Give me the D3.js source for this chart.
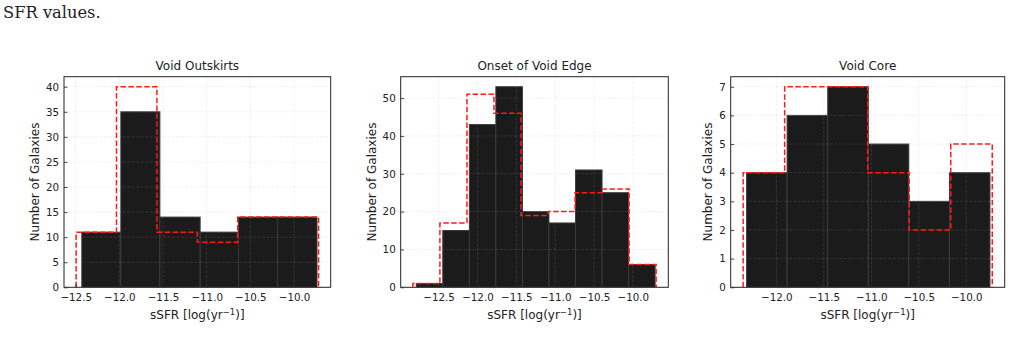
<!DOCTYPE html>
<html lang="en">
<head>
<meta charset="UTF-8">
<title>sSFR histograms</title>
<script src="https://d3js.org/d3.v7.min.js"></script>
<style>
  body { margin: 0; background: #fff; }
  svg { display: block; }
</style>
</head>
<body>
<div id="chart"></div>
<script>
// panel titles
var titles = ["Void Outskirts", "Onset of Void Edge", "Void Core"];

// black filled histograms: bin edges and counts
var outskirtsEdges = [-12.430, -11.983, -11.536, -11.075, -10.636, -10.187, -9.737];
var outskirtsCounts = [11, 35, 14, 11, 14, 14];
var edgeEdges = [-12.787, -12.446, -12.104, -11.763, -11.421, -11.080, -10.738, -10.397, -10.055, -9.714];
var edgeCounts = [1, 15, 43, 53, 20, 17, 31, 25, 6];
var coreEdges = [-12.314, -11.887, -11.459, -11.032, -10.605, -10.177, -9.750];
var coreCounts = [4, 6, 7, 5, 3, 4];

// red dashed step histograms
var outskirtsRedEdges = [-12.495, -12.033, -11.570, -11.107, -10.645, -10.182, -9.719];
var outskirtsRedCounts = [11, 40, 11, 9, 14, 14];
var edgeRedEdges = [-12.831, -12.483, -12.135, -11.788, -11.440, -11.092, -10.744, -10.397, -10.049, -9.701];
var edgeRedCounts = [1, 17, 51, 46, 19, 20, 25, 26, 6];
var coreRedEdges = [-12.350, -11.913, -11.475, -11.038, -10.601, -10.163, -9.726];
var coreRedCounts = [4, 7, 7, 4, 2, 5];

// tick values
var xTicksWide = [-12.5, -12.0, -11.5, -11.0, -10.5, -10.0];
var xTicksCore = [-12.0, -11.5, -11.0, -10.5, -10.0];
var yTicksOutskirts = [0, 5, 10, 15, 20, 25, 30, 35, 40];
var yTicksEdge = [0, 10, 20, 30, 40, 50];
var yTicksCore = [0, 1, 2, 3, 4, 5, 6, 7];

var panels = [
    { title: titles[0], edges: outskirtsEdges, counts: outskirtsCounts, redEdges: outskirtsRedEdges, redCounts: outskirtsRedCounts, xTicks: xTicksWide, yTicks: yTicksOutskirts, left: 64, right: 330.7, labelX: 35 },
    { title: titles[1], edges: edgeEdges, counts: edgeCounts, redEdges: edgeRedEdges, redCounts: edgeRedCounts, xTicks: xTicksWide, yTicks: yTicksEdge, left: 400.7, right: 668.3, labelX: 371.7 },
    { title: titles[2], edges: coreEdges, counts: coreCounts, redEdges: coreRedEdges, redCounts: coreRedCounts, xTicks: xTicksCore, yTicks: yTicksCore, left: 730.7, right: 1004.7, labelX: 708.3 }
];

var svgWidth = 1012, svgHeight = 348;
var plotTop = 76.7, plotBottom = 287.3;

var svg = d3.select("#chart").append("svg")
    .attr("width", svgWidth)
    .attr("height", svgHeight)
    .style("font-family", "'DejaVu Sans', sans-serif");

// leftover of the paper text above the figure
svg.append("text")
    .attr("x", 3)
    .attr("y", 18)
    .style("font-family", "'DejaVu Serif', serif")
    .style("font-size", "16.3px")
    .attr("fill", "#222")
    .text("SFR values.");

var fmt = d3.format(".1f");

panels.forEach(function (p, i) {
    // autoscale with 5% margins like matplotlib
    var lo = Math.min(p.edges[0], p.redEdges[0]);
    var hi = Math.max(p.edges[p.edges.length - 1], p.redEdges[p.redEdges.length - 1]);
    var pad = (hi - lo) * 0.05;
    var ymax = Math.max(d3.max(p.counts), d3.max(p.redCounts)) * 1.05;

    var x = d3.scaleLinear().domain([lo - pad, hi + pad]).range([p.left, p.right]);
    var y = d3.scaleLinear().domain([0, ymax]).range([plotBottom, plotTop]);

    var g = svg.append("g");

    var clipId = "clip" + i;
    g.append("clipPath").attr("id", clipId)
        .append("rect")
        .attr("x", p.left).attr("y", plotTop)
        .attr("width", p.right - p.left).attr("height", plotBottom - plotTop);

    var plot = g.append("g").attr("clip-path", "url(#" + clipId + ")");

    // black bars
    plot.selectAll("rect.bar")
        .data(p.counts)
        .enter()
        .append("rect")
        .attr("class", "bar")
        .attr("x", function (d, j) { return x(p.edges[j]); })
        .attr("y", function (d) { return y(d); })
        .attr("width", function (d, j) { return x(p.edges[j + 1]) - x(p.edges[j]); })
        .attr("height", function (d) { return y(0) - y(d); })
        .attr("fill", "#1b1b1b")
        .attr("stroke", "#3a3a3a")
        .attr("stroke-width", 1);

    // grid
    plot.selectAll("line.gx")
        .data(p.xTicks)
        .enter()
        .append("line")
        .attr("class", "gx")
        .attr("x1", function (d) { return x(d); })
        .attr("x2", function (d) { return x(d); })
        .attr("y1", plotTop).attr("y2", plotBottom)
        .attr("stroke", "#b0b0b0")
        .attr("stroke-opacity", 0.22)
        .attr("stroke-width", 0.8)
        .attr("stroke-dasharray", "3,1.5");

    plot.selectAll("line.gy")
        .data(p.yTicks)
        .enter()
        .append("line")
        .attr("class", "gy")
        .attr("x1", p.left).attr("x2", p.right)
        .attr("y1", function (d) { return y(d); })
        .attr("y2", function (d) { return y(d); })
        .attr("stroke", "#b0b0b0")
        .attr("stroke-opacity", 0.22)
        .attr("stroke-width", 0.8)
        .attr("stroke-dasharray", "3,1.5");

    // red dashed step outline
    var pts = [[p.redEdges[0], 0]];
    p.redCounts.forEach(function (c, j) {
        pts.push([p.redEdges[j], c]);
        pts.push([p.redEdges[j + 1], c]);
    });
    pts.push([p.redEdges[p.redEdges.length - 1], 0]);

    plot.append("path")
        .datum(pts)
        .attr("d", d3.line().x(function (d) { return x(d[0]); }).y(function (d) { return y(d[1]); }))
        .attr("fill", "none")
        .attr("stroke", "#ff1a1a")
        .attr("stroke-width", 1.5)
        .attr("stroke-dasharray", "5.5,2.4");

    // axes with inward ticks
    var xAxis = g.append("g")
        .attr("transform", "translate(0," + plotBottom + ")")
        .call(d3.axisBottom(x).tickValues(p.xTicks).tickFormat(fmt).tickSizeInner(-3.5).tickSizeOuter(0).tickPadding(6));
    var yAxis = g.append("g")
        .attr("transform", "translate(" + p.left + ",0)")
        .call(d3.axisLeft(y).tickValues(p.yTicks).tickFormat(d3.format("d")).tickSizeInner(-3.5).tickSizeOuter(0).tickPadding(5));

    [xAxis, yAxis].forEach(function (a) {
        a.select(".domain").remove();
        a.selectAll("text")
            .style("font-size", "10.3px")
            .style("font-family", "'DejaVu Sans', sans-serif")
            .attr("fill", "#222");
        a.selectAll("line").attr("stroke", "#222").attr("stroke-width", 0.8);
    });

    // frame
    g.append("rect")
        .attr("x", p.left).attr("y", plotTop)
        .attr("width", p.right - p.left).attr("height", plotBottom - plotTop)
        .attr("fill", "none")
        .attr("stroke", "#222")
        .attr("stroke-width", 1);

    // title
    g.append("text")
        .attr("x", (p.left + p.right) / 2)
        .attr("y", 70)
        .attr("text-anchor", "middle")
        .style("font-size", "12px")
        .attr("fill", "#222")
        .text(p.title);

    // x label
    var xl = g.append("text")
        .attr("x", (p.left + p.right) / 2)
        .attr("y", 319)
        .attr("text-anchor", "middle")
        .style("font-size", "12px")
        .attr("fill", "#222");
    xl.append("tspan").text("sSFR [log(yr");
    xl.append("tspan").attr("dy", -4.5).style("font-size", "8.5px").text("\u22121");
    xl.append("tspan").attr("dy", 4.5).text(")]");

    // y label
    g.append("text")
        .attr("transform", "translate(" + (p.labelX + 4) + "," + ((plotTop + plotBottom) / 2) + ") rotate(-90)")
        .attr("text-anchor", "middle")
        .style("font-size", "12px")
        .attr("fill", "#222")
        .text("Number of Galaxies");
});
</script>
</body>
</html>
